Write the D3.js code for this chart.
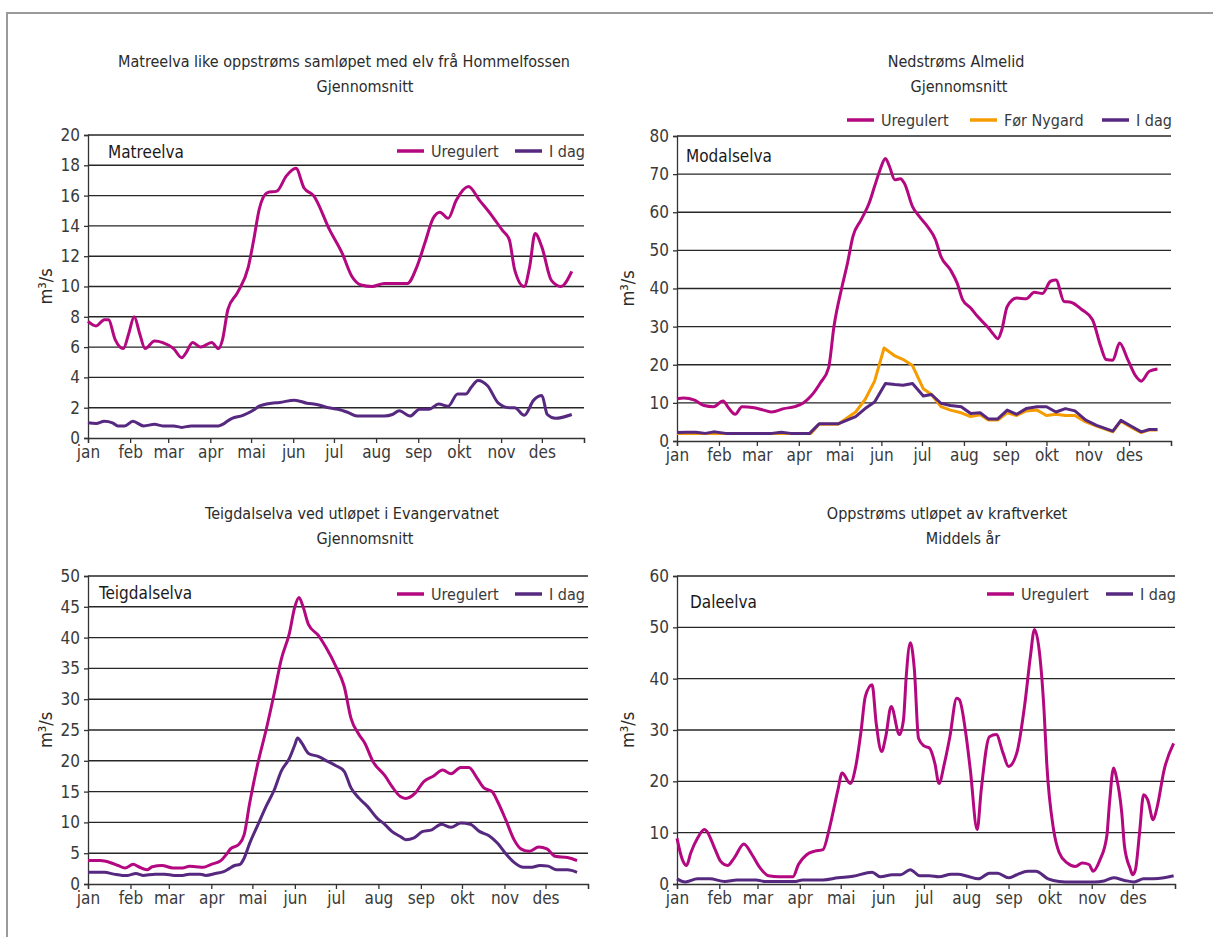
<!DOCTYPE html>
<html>
<head>
<meta charset="utf-8">
<script src="https://cdn.jsdelivr.net/npm/d3@7"></script>
<style>
  body { margin: 0; background: #fff; }
  svg { display: block; }
  text { font-family: "Liberation Sans Narrow", "DejaVu Sans Condensed", "Roboto", sans-serif; fill: #2b2b2b; }
  .tick text { font-size: 17px; fill: #3a3a3a; }
  .domain { stroke: #333; stroke-width: 1.3; }
  .tick line { stroke: #333; stroke-width: 1.3; }
</style>
</head>
<body>
<script>
// month labels (norsk)
var months = ["jan", "feb", "mar", "apr", "mai", "jun", "jul", "aug", "sep", "okt", "nov", "des", ""];

// [dag i året, m3/s] lest av figuren
var matreUregulert = [[1,7.7],[7,7.4],[13,7.8],[16,7.8],[21,6.5],[27,5.9],[31,6.9],[35,8.0],[39,6.9],[43,5.9],[50,6.4],[56,6.3],[64,5.9],[70,5.3],[73,5.6],[78,6.3],[84,6.0],[92,6.3],[97,5.9],[100,6.5],[104,8.5],[111,9.6],[119,11.3],[123,13.1],[127,15.1],[133,16.2],[140,16.3],[147,17.3],[154,17.8],[160,16.5],[167,16.0],[179,13.7],[188,12.2],[195,10.7],[202,10.1],[210,10.0],[219,10.2],[236,10.2],[243,11.3],[249,12.9],[255,14.5],[260,14.9],[266,14.5],[272,15.7],[281,16.6],[289,15.7],[298,14.7],[306,13.7],[311,13.1],[315,11.1],[322,10.0],[326,11.3],[330,13.5],[335,12.6],[342,10.4],[349,10.0],[357,11.0]];
var matreIdag = [[1,1.0],[7,0.95],[13,1.1],[19,1.0],[23,0.8],[28,0.8],[34,1.1],[42,0.8],[50,0.9],[56,0.8],[64,0.8],[70,0.7],[77,0.8],[84,0.8],[97,0.8],[107,1.3],[115,1.5],[122,1.8],[127,2.1],[136,2.3],[142,2.35],[153,2.5],[162,2.3],[170,2.2],[178,2.0],[185,1.9],[192,1.7],[199,1.45],[219,1.45],[225,1.55],[230,1.8],[238,1.45],[245,1.9],[252,1.9],[259,2.25],[266,2.1],[273,2.9],[279,2.9],[283,3.35],[288,3.8],[295,3.45],[303,2.3],[311,2.0],[315,2.0],[322,1.5],[329,2.5],[335,2.8],[339,1.55],[345,1.3],[357,1.55]];

var modalUregulert = [[1,11.1],[6,11.3],[14,10.7],[21,9.3],[28,9.0],[35,10.5],[39,8.7],[44,7.0],[49,9.0],[58,8.7],[65,8.1],[71,7.6],[80,8.5],[88,9.0],[94,9.9],[100,11.8],[107,15.3],[113,19.2],[117,30.1],[123,40.6],[127,46.7],[131,53.7],[137,58.0],[143,62.4],[147,66.8],[151,71.1],[155,74.1],[158,72.0],[162,68.5],[166,68.8],[169,67.6],[175,61.5],[180,58.9],[186,56.3],[192,52.8],[196,48.4],[203,44.9],[208,41.4],[212,37.1],[218,34.9],[223,32.7],[231,29.7],[235,27.9],[238,26.8],[241,29.2],[245,35.3],[252,37.5],[259,37.3],[265,39.0],[271,38.7],[277,41.9],[281,42.2],[287,36.6],[292,36.4],[300,34.5],[308,31.8],[314,24.9],[318,21.4],[323,21.2],[328,25.7],[334,21.4],[340,17.0],[344,15.7],[350,18.3],[356,18.9]];
var modalForNygard = [[1,2.0],[31,2.0],[71,2.0],[100,2.0],[106,4.4],[120,4.4],[133,7.6],[140,10.9],[147,15.7],[154,24.4],[162,22.3],[169,21.2],[175,19.8],[183,13.7],[189,12.2],[196,9.0],[203,8.1],[211,7.4],[218,6.4],[225,6.9],[231,5.5],[238,5.5],[245,7.4],[252,6.7],[259,7.9],[267,8.1],[274,6.7],[281,7.0],[288,6.7],[295,6.7],[303,5.0],[311,3.9],[323,2.4],[329,5.2],[337,3.5],[344,2.2],[350,2.9],[356,2.9]];
var modalIdag = [[1,2.2],[8,2.3],[15,2.3],[22,2.0],[28,2.4],[37,2.0],[71,2.0],[78,2.3],[85,2.0],[99,2.0],[106,4.5],[120,4.5],[133,6.4],[140,8.5],[147,10.2],[155,15.1],[162,14.8],[168,14.6],[175,15.1],[183,11.8],[189,12.2],[196,9.9],[203,9.3],[211,9.0],[218,7.2],[225,7.4],[231,5.8],[238,5.8],[245,8.1],[252,7.0],[259,8.5],[267,9.0],[274,9.0],[281,7.6],[288,8.5],[295,7.9],[303,5.5],[311,4.1],[323,2.6],[329,5.4],[337,3.8],[344,2.4],[350,3.0],[356,3.0]];

var teigUregulert = [[1,3.8],[10,3.8],[17,3.5],[23,3.0],[28,2.6],[34,3.2],[38,2.8],[44,2.3],[48,2.8],[55,3.0],[63,2.6],[70,2.6],[75,2.9],[80,2.8],[85,2.7],[91,3.2],[98,3.8],[102,4.8],[105,5.7],[111,6.4],[115,8.0],[119,13.1],[125,19.6],[131,25.0],[137,31.0],[142,36.4],[148,40.7],[152,45.0],[155,46.5],[158,45.0],[162,42.1],[169,40.4],[175,38.3],[182,35.3],[188,32.1],[193,26.9],[199,24.2],[203,22.9],[209,19.9],[218,17.5],[223,15.8],[229,14.2],[233,13.9],[240,14.8],[246,16.6],[253,17.5],[260,18.5],[266,17.9],[273,18.9],[279,18.9],[285,17.2],[290,15.6],[296,15.0],[300,13.4],[306,10.4],[312,7.2],[317,5.7],[323,5.3],[330,6.0],[336,5.7],[342,4.5],[351,4.3],[358,3.8]];
var teigIdag = [[1,1.9],[13,1.9],[20,1.6],[26,1.4],[30,1.4],[36,1.7],[41,1.4],[50,1.6],[57,1.6],[64,1.4],[70,1.4],[75,1.6],[83,1.6],[87,1.4],[94,1.7],[100,2.0],[104,2.5],[108,3.0],[112,3.2],[115,4.2],[119,6.6],[125,9.6],[131,12.6],[137,15.3],[142,18.3],[148,20.4],[152,22.6],[154,23.7],[157,22.9],[162,21.2],[169,20.7],[176,19.9],[182,19.2],[188,18.3],[193,15.6],[199,13.9],[205,12.6],[212,10.7],[218,9.6],[223,8.5],[229,7.7],[233,7.2],[239,7.5],[245,8.5],[252,8.8],[259,9.7],[266,9.2],[273,9.9],[280,9.7],[287,8.5],[294,7.8],[300,6.6],[306,4.9],[312,3.5],[319,2.7],[324,2.7],[331,3.0],[337,2.9],[343,2.3],[351,2.3],[358,1.9]];

var daleUregulert = [[1,8.9],[5,4.7],[8,3.6],[11,6.0],[16,8.9],[21,10.6],[23,10.2],[29,6.7],[33,4.4],[38,3.6],[43,5.1],[50,7.8],[56,5.7],[62,3.1],[68,1.6],[76,1.4],[86,1.4],[90,3.8],[96,5.7],[102,6.4],[108,6.7],[113,11.2],[119,18.4],[122,21.6],[128,19.6],[132,22.9],[136,30.0],[139,36.5],[144,38.8],[147,31.3],[151,25.8],[154,28.7],[158,34.6],[164,29.1],[167,32.0],[169,40.4],[172,47.0],[175,41.7],[178,28.4],[182,26.9],[186,26.5],[190,23.5],[193,19.6],[197,23.5],[201,28.7],[206,36.2],[208,35.9],[213,28.7],[216,22.2],[221,10.6],[224,18.4],[230,28.7],[235,29.1],[240,25.5],[244,22.9],[250,25.5],[256,35.2],[260,44.3],[263,49.6],[267,44.3],[270,33.9],[272,23.5],[277,10.6],[281,6.2],[287,4.1],[293,3.4],[298,4.1],[303,3.8],[306,2.5],[311,4.7],[316,9.3],[318,15.8],[321,22.6],[323,20.9],[327,13.8],[329,7.3],[333,3.1],[335,1.8],[337,2.8],[340,9.9],[343,17.4],[346,16.4],[350,12.5],[353,15.1],[358,22.2],[365,27.4]];
var daleIdag = [[1,1.0],[7,0.4],[16,1.0],[25,1.0],[36,0.5],[45,0.8],[59,0.8],[65,0.5],[88,0.5],[93,0.8],[108,0.8],[119,1.2],[130,1.5],[144,2.3],[150,1.4],[159,1.8],[165,1.8],[172,2.8],[179,1.6],[186,1.6],[193,1.4],[202,1.9],[207,1.9],[214,1.5],[222,1.0],[230,2.1],[236,2.1],[244,1.2],[250,1.8],[258,2.5],[264,2.5],[273,1.0],[281,0.5],[290,0.4],[307,0.4],[314,0.6],[321,1.2],[329,0.7],[336,0.4],[343,1.0],[350,1.0],[358,1.2],[365,1.6]];

var colUreg = "#b3087f", colIdag = "#56287f", colFor = "#f59c00";

var svg = d3.select("body").append("svg")
    .attr("width", 1213)
    .attr("height", 937);

// outer frame (only top and left visible)
svg.append("path")
    .attr("d", "M7,937 L7,13 L1213,13")
    .attr("fill", "none")
    .attr("stroke", "#9a9a9a")
    .attr("stroke-width", 2);

var panels = [
  { left: 88, right: 584, top: 135, bottom: 438, max: 20, step: 2,
    title: ["Matreelva like oppstrøms samløpet med elv frå Hommelfossen", "Gjennomsnitt"],
    titleX: [344, 365], titleY: [67, 92], river: "Matreelva", riverX: 108, riverY: 158,
    ylabX: 46, legendY: 151,
    series: [
      { name: "Uregulert", data: matreUregulert, color: colUreg, lx: 397, curve: d3.curveMonotoneX },
      { name: "I dag", data: matreIdag, color: colIdag, lx: 515, curve: d3.curveMonotoneX }
    ] },
  { left: 677, right: 1171, top: 136, bottom: 441, max: 80, step: 10,
    title: ["Nedstrøms Almelid", "Gjennomsnitt"],
    titleX: [956, 959], titleY: [67, 92], river: "Modalselva", riverX: 686, riverY: 162,
    ylabX: 628, legendY: 120,
    series: [
      { name: "Uregulert", data: modalUregulert, color: colUreg, lx: 847, curve: d3.curveMonotoneX },
      { name: "Før Nygard", data: modalForNygard, color: colFor, lx: 970, curve: d3.curveLinear },
      { name: "I dag", data: modalIdag, color: colIdag, lx: 1102, curve: d3.curveLinear }
    ] },
  { left: 88, right: 588, top: 576, bottom: 884, max: 50, step: 5,
    title: ["Teigdalselva ved utløpet i Evangervatnet", "Gjennomsnitt"],
    titleX: [352, 365], titleY: [519, 544], river: "Teigdalselva", riverX: 99, riverY: 599,
    ylabX: 46, legendY: 594,
    series: [
      { name: "Uregulert", data: teigUregulert, color: colUreg, lx: 397, curve: d3.curveMonotoneX },
      { name: "I dag", data: teigIdag, color: colIdag, lx: 515, curve: d3.curveMonotoneX }
    ] },
  { left: 677, right: 1175, top: 576, bottom: 884, max: 60, step: 10,
    title: ["Oppstrøms utløpet av kraftverket", "Middels år"],
    titleX: [947, 963], titleY: [519, 544], river: "Daleelva", riverX: 690, riverY: 608,
    ylabX: 628, legendY: 594,
    series: [
      { name: "Uregulert", data: daleUregulert, color: colUreg, lx: 987, curve: d3.curveMonotoneX },
      { name: "I dag", data: daleIdag, color: colIdag, lx: 1106, curve: d3.curveMonotoneX }
    ] }
];

var start = new Date(2021, 0, 1), end = new Date(2022, 0, 1);
var monthTicks = d3.timeMonth.range(start, new Date(2022, 0, 2));
function dayDate(d) { return new Date(2021, 0, d); }

panels.forEach(function(p) {
  var x = d3.scaleTime().domain([start, end]).range([p.left, p.right]),
      y = d3.scaleLinear().domain([0, p.max]).range([p.bottom, p.top]);

  var g = svg.append("g");

  // titles
  p.title.forEach(function(t, i) {
    g.append("text")
      .attr("x", p.titleX[i])
      .attr("y", p.titleY[i])
      .attr("text-anchor", "middle")
      .style("font-size", "16px")
      .text(t);
  });

  // gridlines
  var yt = d3.range(p.step, p.max + p.step / 2, p.step);
  g.selectAll(".grid")
    .data(yt)
    .enter().append("line")
      .attr("x1", p.left)
      .attr("x2", p.right)
      .attr("y1", function(d) { return y(d); })
      .attr("y2", function(d) { return y(d); })
      .attr("stroke", "#262626")
      .attr("stroke-width", 1.4);

  g.append("g")
    .attr("transform", "translate(" + p.left + ",0)")
    .call(d3.axisLeft(y).tickValues(d3.range(0, p.max + p.step / 2, p.step)).tickSize(4).tickPadding(4));

  g.append("g")
    .attr("transform", "translate(0," + p.bottom + ")")
    .call(d3.axisBottom(x).tickValues(monthTicks).tickSize(5).tickPadding(3)
      .tickFormat(function(d, i) { return months[i]; }));

  // y label
  g.append("text")
    .attr("transform", "translate(" + p.ylabX + "," + ((p.top + p.bottom) / 2) + ") rotate(-90)")
    .attr("text-anchor", "middle")
    .attr("dy", "0.35em")
    .style("font-size", "18px")
    .text("m³/s");

  // river name
  g.append("text")
    .attr("x", p.riverX)
    .attr("y", p.riverY)
    .style("font-size", "17px")
    .style("fill", "#1a1a1a")
    .text(p.river);

  // lines
  p.series.forEach(function(s) {
    var line = d3.line()
      .curve(s.curve)
      .x(function(d) { return x(dayDate(d[0])); })
      .y(function(d) { return y(d[1]); });

    g.append("path")
      .datum(s.data)
      .attr("fill", "none")
      .attr("stroke", s.color)
      .attr("stroke-width", 3)
      .attr("stroke-linejoin", "round")
      .attr("d", line);

    // legend
    g.append("line")
      .attr("x1", s.lx)
      .attr("x2", s.lx + 27)
      .attr("y1", p.legendY)
      .attr("y2", p.legendY)
      .attr("stroke", s.color)
      .attr("stroke-width", 3.5);
    g.append("text")
      .attr("x", s.lx + 34)
      .attr("y", p.legendY)
      .attr("dy", "0.35em")
      .style("font-size", "16px")
      .style("fill", "#3a3a3a")
      .text(s.name);
  });
});
</script>
</body>
</html>
